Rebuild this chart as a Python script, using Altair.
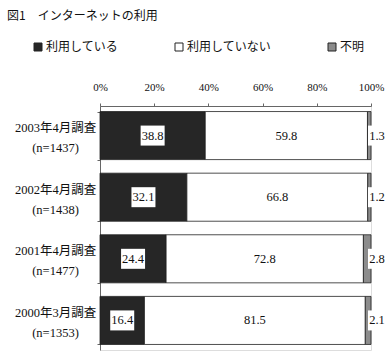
import altair as alt
import pandas as pd

surveys = ["2003年4月調査|(n=1437)", "2002年4月調査|(n=1438)",
           "2001年4月調査|(n=1477)", "2000年3月調査|(n=1353)"]
categories = ["利用している", "利用していない", "不明"]
using = [38.8, 32.1, 24.4, 16.4]
not_using = [59.8, 66.8, 72.8, 81.5]
unknown = [1.3, 1.2, 2.8, 2.1]
colors = ["#262626", "#ffffff", "#8c8c8c"]

rows = []
for i, s in enumerate(surveys):
    for k, (cat, vals) in enumerate(zip(categories, [using, not_using, unknown])):
        rows.append({"survey": s, "cat": cat, "order": k, "value": vals[i]})
df = pd.DataFrame(rows)

SERIF = "'Liberation Serif', 'Noto Sans CJK JP', serif"
SANS = "'Noto Sans CJK JP', sans-serif"

base = alt.Chart(df).transform_stack(
    stack="value", groupby=["survey"], as_=["x0", "x1"],
    offset="normalize", sort=[alt.SortField("order")]
).transform_calculate(mid="(datum.x0 + datum.x1) / 2")

y = alt.Y("survey:N", sort=surveys, title=None,
          scale=alt.Scale(paddingInner=0.22, paddingOuter=0.09),
          axis=alt.Axis(labelExpr="datum.value ? split(datum.value, '|') : ''",
                        labelAlign="center",
                        labelBaseline="middle", labelLineHeight=20, labelPadding=42,
                        labelOffset=-8,
                        labelFontSize=12.5, labelFont=SERIF, labelColor="#111",
                        tickBand="extent", tickSize=3, tickColor="#666",
                        domainColor="#666"))

x = alt.X("x0:Q", title=None, scale=alt.Scale(domain=[0, 1], nice=False),
          axis=alt.Axis(orient="top", format="%", values=[0, 0.2, 0.4, 0.6, 0.8, 1.0],
                        labelFont=SERIF, labelFontSize=11, labelColor="#111",
                        labelPadding=11, tickSize=3, tickColor="#666",
                        domainColor="#666", grid=False, labelFlush=False))

bars = base.mark_bar(stroke="#222", strokeWidth=0.8).encode(
    x=x, x2="x1:Q", y=y,
    color=alt.Color("cat:N", scale=alt.Scale(domain=categories, range=colors),
                    legend=alt.Legend(title=None, orient="none", direction="horizontal",
                                      columns=3, legendX=-68, legendY=-65,
                                      columnPadding=54, symbolType="square",
                                      symbolSize=64, symbolStrokeColor="#222",
                                      symbolStrokeWidth=1, labelFont=SANS,
                                      labelFontSize=12, labelColor="#111",
                                      labelOffset=2)),
)

box_shape = "M-1.2,-1L1.2,-1L1.2,1L-1.2,1Z"

dark = base.transform_filter(alt.datum.order == 0)
dark_box = dark.mark_point(shape=box_shape, size=400, filled=True, fill="white",
                           opacity=1, strokeWidth=0).encode(
    x="mid:Q", y=alt.Y("survey:N", sort=surveys))
dark_text = dark.mark_text(font=SERIF, fontSize=12.5, color="#111").encode(
    x="mid:Q", y=alt.Y("survey:N", sort=surveys), text=alt.Text("value:Q", format=".1f"))

white = base.transform_filter(alt.datum.order == 1)
white_text = white.mark_text(font=SERIF, fontSize=12.5, color="#111").encode(
    x="mid:Q", y=alt.Y("survey:N", sort=surveys), text=alt.Text("value:Q", format=".1f"))

unk = base.transform_filter(alt.datum.order == 2)
unk_box = unk.mark_point(shape="M-0.9,-1L0.9,-1L0.9,1L-0.9,1Z", size=400,
                         filled=True, fill="white", opacity=1, strokeWidth=0,
                         xOffset=6).encode(
    x="x1:Q", y=alt.Y("survey:N", sort=surveys))
unk_text = unk.mark_text(font=SERIF, fontSize=12.5, color="#111", dx=6).encode(
    x="x1:Q", y=alt.Y("survey:N", sort=surveys), text=alt.Text("value:Q", format=".1f"))

chart = alt.layer(bars, dark_box, dark_text, white_text, unk_box, unk_text).properties(
    width=271, height=244,
    padding={"left": 100, "top": 106, "right": 20, "bottom": 3},
    autosize=alt.AutoSizeParams(type="none"),
    title=alt.TitleParams("図1　インターネットの利用", anchor="start", frame="group",
                          font=SANS, fontSize=12, fontWeight="normal", color="#111",
                          dx=-93, offset=18),
).configure_view(stroke=None).configure(background="white")

chart.save("out.html", embed_options={"renderer": "svg", "actions": False})
